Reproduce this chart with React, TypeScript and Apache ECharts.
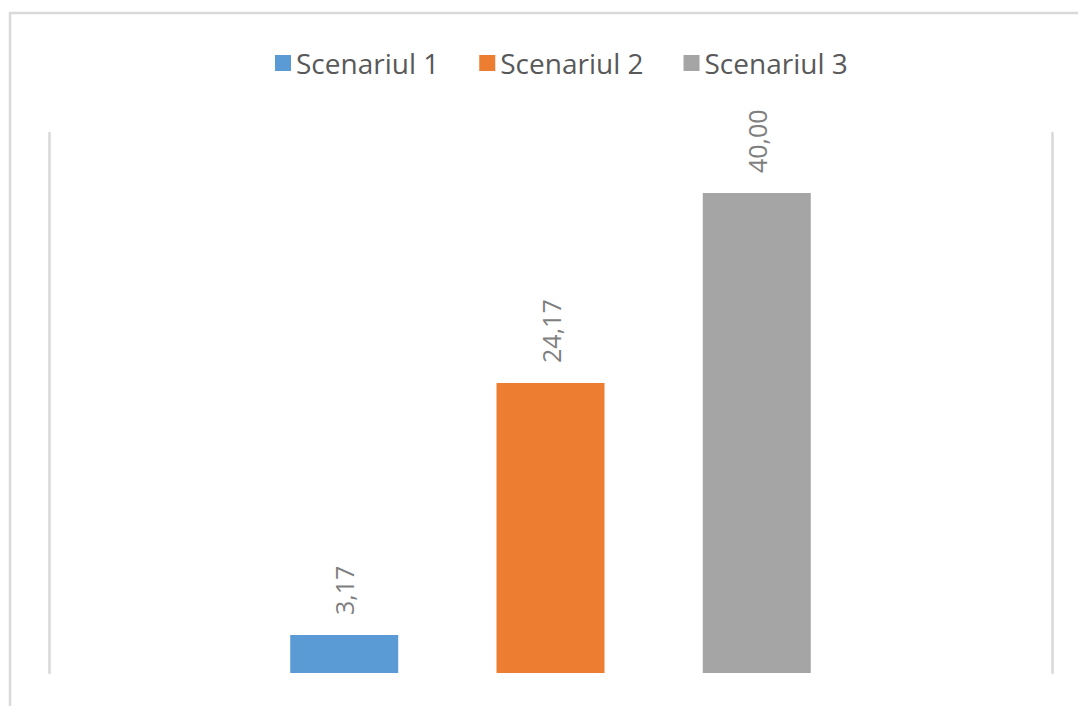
import React, { useEffect, useRef } from "react";
import * as echarts from "echarts";

const categories = [""];
const seriesNames = ["Scenariul 1", "Scenariul 2", "Scenariul 3"];
const seriesValues = [[3.17], [24.17], [40.0]];
const seriesColors = ["#5B9BD5", "#ED7D31", "#A5A5A5"];

const FONT = "'Open Sans', 'Noto Sans', sans-serif";

export default function App() {
  const ref = useRef<HTMLDivElement>(null);
  useEffect(() => {
    if (!ref.current) return;
    const chart = echarts.init(ref.current, null, { renderer: "svg" });
    const axisLineStyle = { color: "#d9d9d9", width: 2.5 };
    chart.setOption({
      animation: false,
      backgroundColor: "#ffffff",
      graphic: [
        {
          type: "rect",
          shape: { x: 10, y: 13, width: 1200, height: 900 },
          style: { fill: "none", stroke: "#d9d9d9", lineWidth: 2.5 },
          silent: true,
        },
      ],
      legend: {
        data: seriesNames,
        left: 270,
        top: 44,
        icon: "rect",
        itemWidth: 16,
        itemHeight: 16,
        itemGap: 40,
        textStyle: { fontSize: 28, color: "#595959", fontFamily: FONT },
      },
      grid: { left: 49, right: 26, top: 133, bottom: 33, containLabel: false },
      xAxis: {
        type: "category",
        data: categories,
        axisLine: { show: false },
        axisTick: { show: false },
        axisLabel: { show: false },
        splitLine: { show: false },
      },
      yAxis: [
        {
          type: "value",
          min: 0,
          max: 45,
          position: "left",
          axisLine: { show: true, lineStyle: axisLineStyle },
          axisTick: { show: false },
          axisLabel: { show: false },
          splitLine: { show: false },
        },
        {
          type: "value",
          min: 0,
          max: 45,
          position: "right",
          axisLine: { show: true, lineStyle: axisLineStyle },
          axisTick: { show: false },
          axisLabel: { show: false },
          splitLine: { show: false },
        },
      ],
      series: seriesNames.map((name, i) => ({
        name,
        type: "bar",
        yAxisIndex: 0,
        data: seriesValues[i],
        barWidth: 108,
        barGap: "91%",
        itemStyle: { color: seriesColors[i] },
        label: {
          show: true,
          position: "top",
          rotate: 90,
          distance: 20,
          align: "left",
          verticalAlign: "middle",
          fontSize: 25,
          color: "#7f7f7f",
          fontFamily: FONT,
          formatter: (p: any) => Number(p.value).toFixed(2).replace(".", ","),
        },
      })),
    });
    return () => chart.dispose();
  }, []);
  return (
    <div
      ref={ref}
      style={{ position: "absolute", left: 0, top: 0, width: 1078, height: 706 }}
    />
  );
}
